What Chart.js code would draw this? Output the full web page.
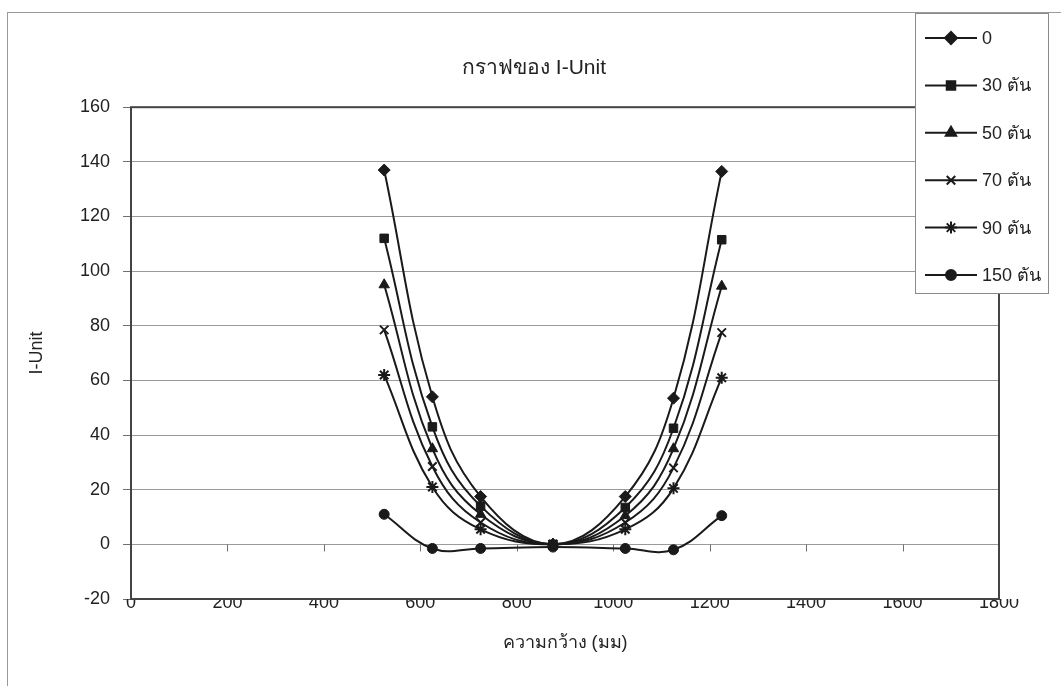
<!DOCTYPE html>
<html>
<head>
<meta charset="utf-8">
<title>กราฟของ I-Unit</title>
<script src="https://cdn.jsdelivr.net/npm/chart.js@4/dist/chart.umd.min.js"></script>
<style>
  html, body { margin: 0; padding: 0; background: #ffffff; }
  canvas { display: block; }
</style>
</head>
<body>
<canvas id="chart" width="1061" height="686"></canvas>
<script>
// Measurement positions across the width (mm)
const widthsMm = [525, 625, 725, 875, 1025, 1125, 1225];

// Series names, one per load
const seriesNames = ['0', '30 ตัน', '50 ตัน', '70 ตัน', '90 ตัน', '150 ตัน'];

// I-Unit values for each load
const load0   = [137, 54, 17.5, 0, 17.5, 53.5, 136.5];
const load30  = [112, 43, 14, 0, 13.5, 42.5, 111.5];
const load50  = [95, 35, 11, 0, 10.5, 35, 94.5];
const load70  = [78.5, 28.5, 8, 0, 8, 28, 77.5];
const load90  = [62, 21, 5.5, 0, 5.5, 20.5, 61];
const load150 = [11, -1.5, -1.5, -1, -1.5, -2, 10.5];

// Axis tick values
const xTickValues = [0, 200, 400, 600, 800, 1000, 1200, 1400, 1600, 1800];
const yTickValues = [-20, 0, 20, 40, 60, 80, 100, 120, 140, 160];

const allSeries = [load0, load30, load50, load70, load90, load150];
const markerStyles = ['rectRot', 'rect', 'triangle', 'crossRot', 'star', 'circle'];
const markerRadius = [6, 6, 6, 6, 6, 5];

const FONT = "'Liberation Sans', Arial, 'Noto Sans', 'DejaVu Sans', sans-serif";
const INK = '#1a1a1a';

const datasets = allSeries.map((vals, i) => ({
  label: seriesNames[i],
  data: widthsMm.map((w, j) => ({ x: w, y: vals[j] })),
  borderColor: INK,
  backgroundColor: INK,
  borderWidth: 2,
  tension: 0.4,
  pointStyle: markerStyles[i],
  pointRadius: markerRadius[i],
  pointBorderWidth: (markerStyles[i] === 'crossRot' || markerStyles[i] === 'star') ? 2 : 1,
  pointBackgroundColor: INK,
  pointBorderColor: INK
}));

// Outer border of the chart and the thick frame round the plot
const framePlugin = {
  id: 'frame',
  beforeDraw(chart) {
    const ctx = chart.ctx;
    ctx.save();
    ctx.fillStyle = '#ffffff';
    ctx.fillRect(0, 0, chart.width, chart.height);
    ctx.strokeStyle = '#9a9a9a';
    ctx.lineWidth = 1;
    ctx.strokeRect(7.5, 12.5, chart.width + 10, chart.height + 10);
    ctx.restore();
  },
  beforeDatasetsDraw(chart) {
    // small tick marks hanging under the zero line
    const ctx = chart.ctx;
    const xs = chart.scales.x, ys = chart.scales.y;
    const y0 = Math.round(ys.getPixelForValue(0)) + 0.5;
    ctx.save();
    ctx.strokeStyle = '#707070';
    ctx.lineWidth = 1;
    ctx.beginPath();
    xTickValues.forEach(v => {
      const px = Math.round(xs.getPixelForValue(v)) + 0.5;
      ctx.moveTo(px, y0);
      ctx.lineTo(px, y0 + 7);
    });
    ctx.stroke();
    ctx.restore();
  },
  afterDraw(chart) {
    const ctx = chart.ctx;
    const a = chart.chartArea;
    ctx.save();
    ctx.strokeStyle = '#444444';
    ctx.lineWidth = 2;
    ctx.strokeRect(a.left, a.top, a.right - a.left, a.bottom - a.top);
    ctx.restore();
  }
};

// Boxed legend: a line with the series marker in its middle, then the name
const legendBoxPlugin = {
  id: 'legendBox',
  afterDraw(chart) {
    const ctx = chart.ctx;
    const box = { x: 915, y: 13, w: 133, h: 280 };
    ctx.save();
    ctx.fillStyle = '#ffffff';
    ctx.fillRect(box.x, box.y, box.w, box.h);
    ctx.strokeStyle = '#8a8a8a';
    ctx.lineWidth = 1;
    ctx.strokeRect(box.x + 0.5, box.y + 0.5, box.w, box.h);
    const rowStart = 38, rowStep = 47.4;
    chart.data.datasets.forEach((ds, i) => {
      const y = rowStart + i * rowStep;
      ctx.strokeStyle = INK;
      ctx.lineWidth = 2;
      ctx.beginPath();
      ctx.moveTo(925, y);
      ctx.lineTo(977, y);
      ctx.stroke();
      ctx.fillStyle = INK;
      Chart.helpers.drawPoint(ctx, {
        pointStyle: ds.pointStyle,
        radius: ds.pointRadius,
        rotation: 0,
        borderWidth: ds.pointBorderWidth
      }, 951, y);
      ctx.fillStyle = '#222';
      ctx.font = '18px ' + FONT;
      ctx.textAlign = 'left';
      ctx.textBaseline = 'middle';
      ctx.fillText(ds.label, 982, y + 1);
    });
    ctx.restore();
  }
};

new Chart(document.getElementById('chart'), {
  type: 'line',
  data: { datasets },
  plugins: [framePlugin, legendBoxPlugin],
  options: {
    responsive: false,
    animation: false,
    devicePixelRatio: 1,
    layout: { padding: { top: 0, left: 7, right: 0, bottom: 0 } },
    plugins: {
      legend: { display: false },
      tooltip: { enabled: false },
      title: {
        display: true,
        text: 'กราฟของ I-Unit',
        color: '#222',
        font: { family: FONT, size: 21, weight: 'normal' },
        padding: { top: 56, bottom: 26 }
      }
    },
    scales: {
      x: {
        type: 'linear',
        position: 'bottom',
        min: 0,
        max: 1800,
        afterBuildTicks(scale) { scale.ticks = xTickValues.map(v => ({ value: v })); },
        afterFit(scale) { scale.height = 87; },
        grid: { display: false, drawTicks: false },
        border: { display: false },
        ticks: {
          autoSkip: false,
          maxRotation: 0,
          padding: -7,
          color: '#222',
          font: { family: FONT, size: 18 },
          callback: v => String(v)
        },
        title: {
          display: true,
          text: 'ความกว้าง (มม)',
          color: '#222',
          font: { family: FONT, size: 18 },
          padding: { top: 0, bottom: 32 }
        }
      },
      y: {
        type: 'linear',
        position: 'left',
        min: -20,
        max: 160,
        afterBuildTicks(scale) { scale.ticks = yTickValues.map(v => ({ value: v })); },
        afterFit(scale) { scale.width = 124; },
        grid: {
          color: '#9a9a9a',
          lineWidth: 1,
          drawTicks: true,
          tickLength: 8,
          tickColor: '#707070'
        },
        border: { display: false },
        ticks: {
          padding: 13,
          color: '#222',
          font: { family: FONT, size: 18 }
        },
        title: {
          display: true,
          text: 'I-Unit',
          color: '#222',
          font: { family: FONT, size: 18 },
          padding: { top: 19, bottom: 0 }
        }
      },
      yRight: {
        type: 'linear',
        position: 'right',
        display: true,
        afterFit(scale) { scale.width = 62; },
        grid: { display: false, drawTicks: false },
        border: { display: false },
        ticks: { display: false }
      }
    }
  }
});
</script>
</body>
</html>
